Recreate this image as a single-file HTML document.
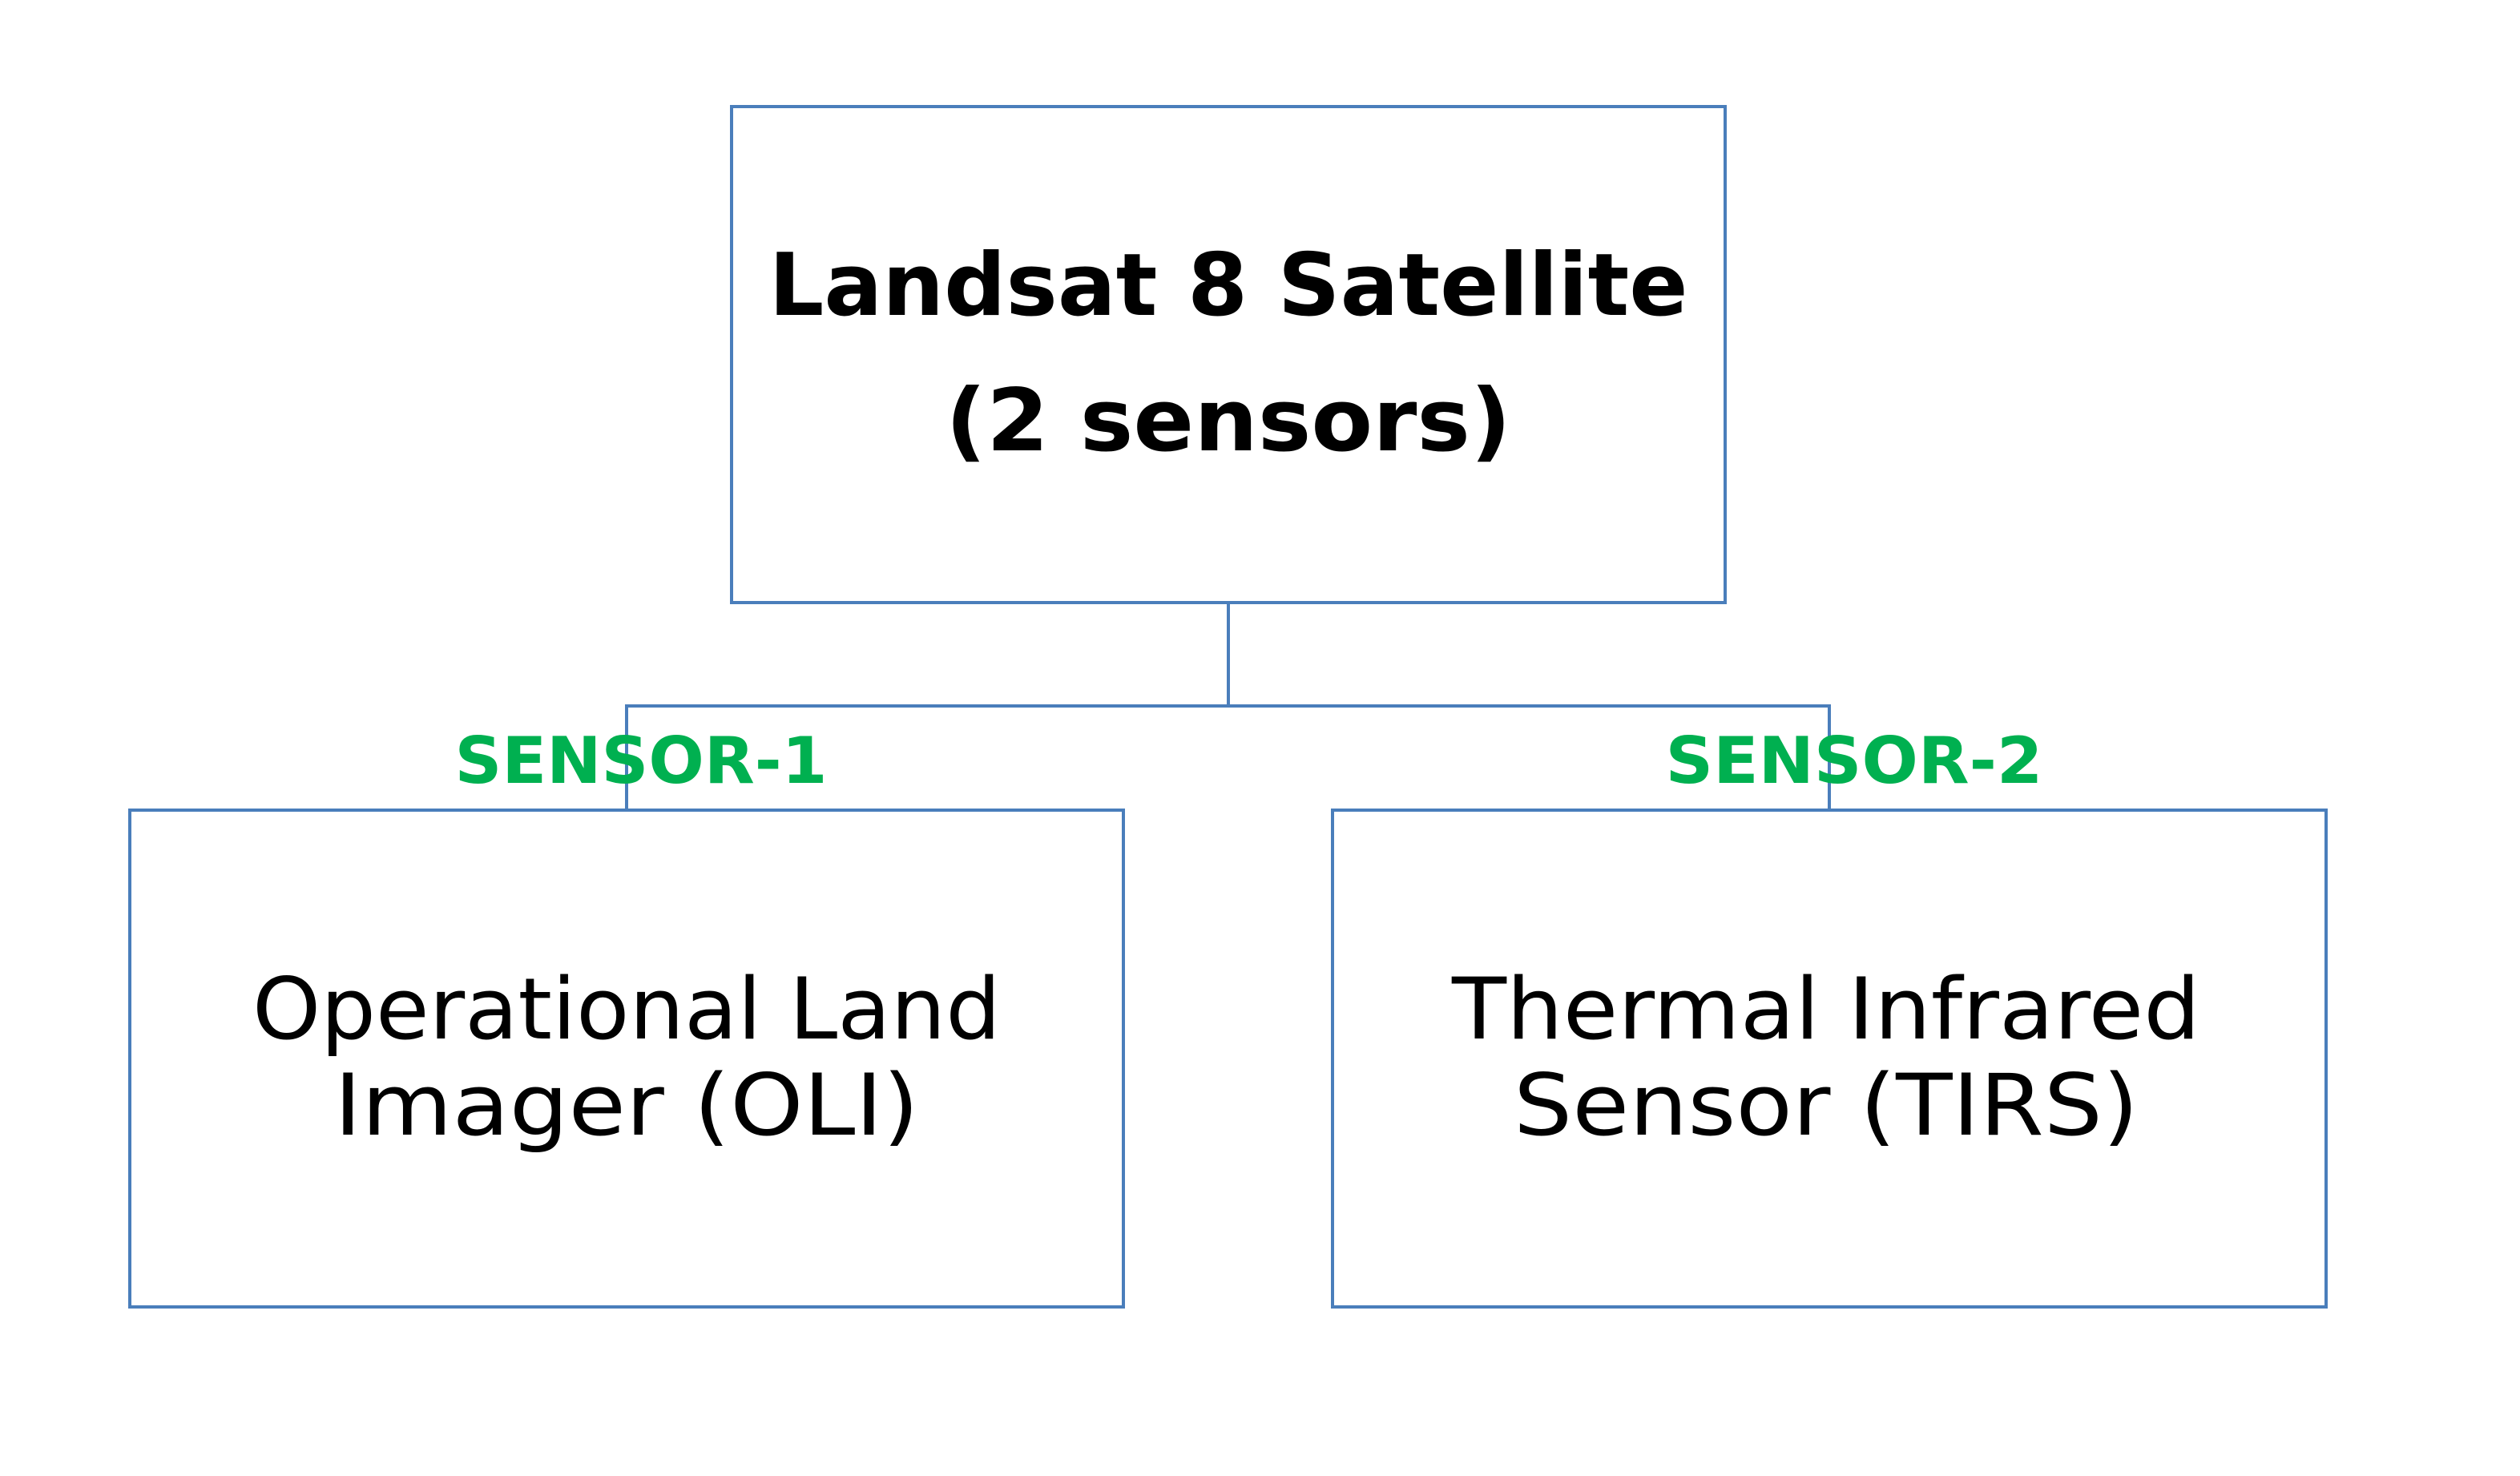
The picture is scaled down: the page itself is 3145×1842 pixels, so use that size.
<!DOCTYPE html>
<html><head><meta charset="utf-8"><style>html,body{margin:0;padding:0;background:#fff}svg{display:block}</style></head>
<body>
<svg width="3145" height="1842" viewBox="0 0 3145 1842" xmlns="http://www.w3.org/2000/svg">
<rect width="3145" height="1842" fill="#fff"/>
<g fill="none" stroke="#4A7EBB" stroke-width="4">
<rect x="913" y="133" width="1240" height="619"/>
<rect x="162" y="1011" width="1240" height="620"/>
<rect x="1663" y="1011" width="1240" height="620"/>
<polyline points="1533,752 1533,881"/>
<polyline points="782,1011 782,881 2283,881 2283,1011"/>
</g>
<g font-family="'DejaVu Sans','Liberation Sans',sans-serif" text-anchor="middle">
<text x="1533" y="393" font-size="108" font-weight="bold" textLength="1147" lengthAdjust="spacingAndGlyphs" fill="#000">Landsat 8 Satellite</text>
<text x="1533" y="562" font-size="108" font-weight="bold" textLength="706" lengthAdjust="spacingAndGlyphs" fill="#000">(2 sensors)</text>
<text x="782" y="1296" font-size="106" textLength="934" lengthAdjust="spacingAndGlyphs" fill="#000">Operational Land</text>
<text x="782" y="1416" font-size="106" textLength="730" lengthAdjust="spacingAndGlyphs" fill="#000">Imager (OLI)</text>
<text x="2279" y="1296" font-size="106" textLength="934" lengthAdjust="spacingAndGlyphs" fill="#000">Thermal Infrared</text>
<text x="2279" y="1416" font-size="106" textLength="780" lengthAdjust="spacingAndGlyphs" fill="#000">Sensor (TIRS)</text>
<text x="800" y="977" font-size="80" font-weight="bold" textLength="465" lengthAdjust="spacingAndGlyphs" fill="#00B050">SENSOR-1</text>
<text x="2314" y="977" font-size="80" font-weight="bold" textLength="471" lengthAdjust="spacingAndGlyphs" fill="#00B050">SENSOR-2</text>
</g>
</svg>
</body></html>
